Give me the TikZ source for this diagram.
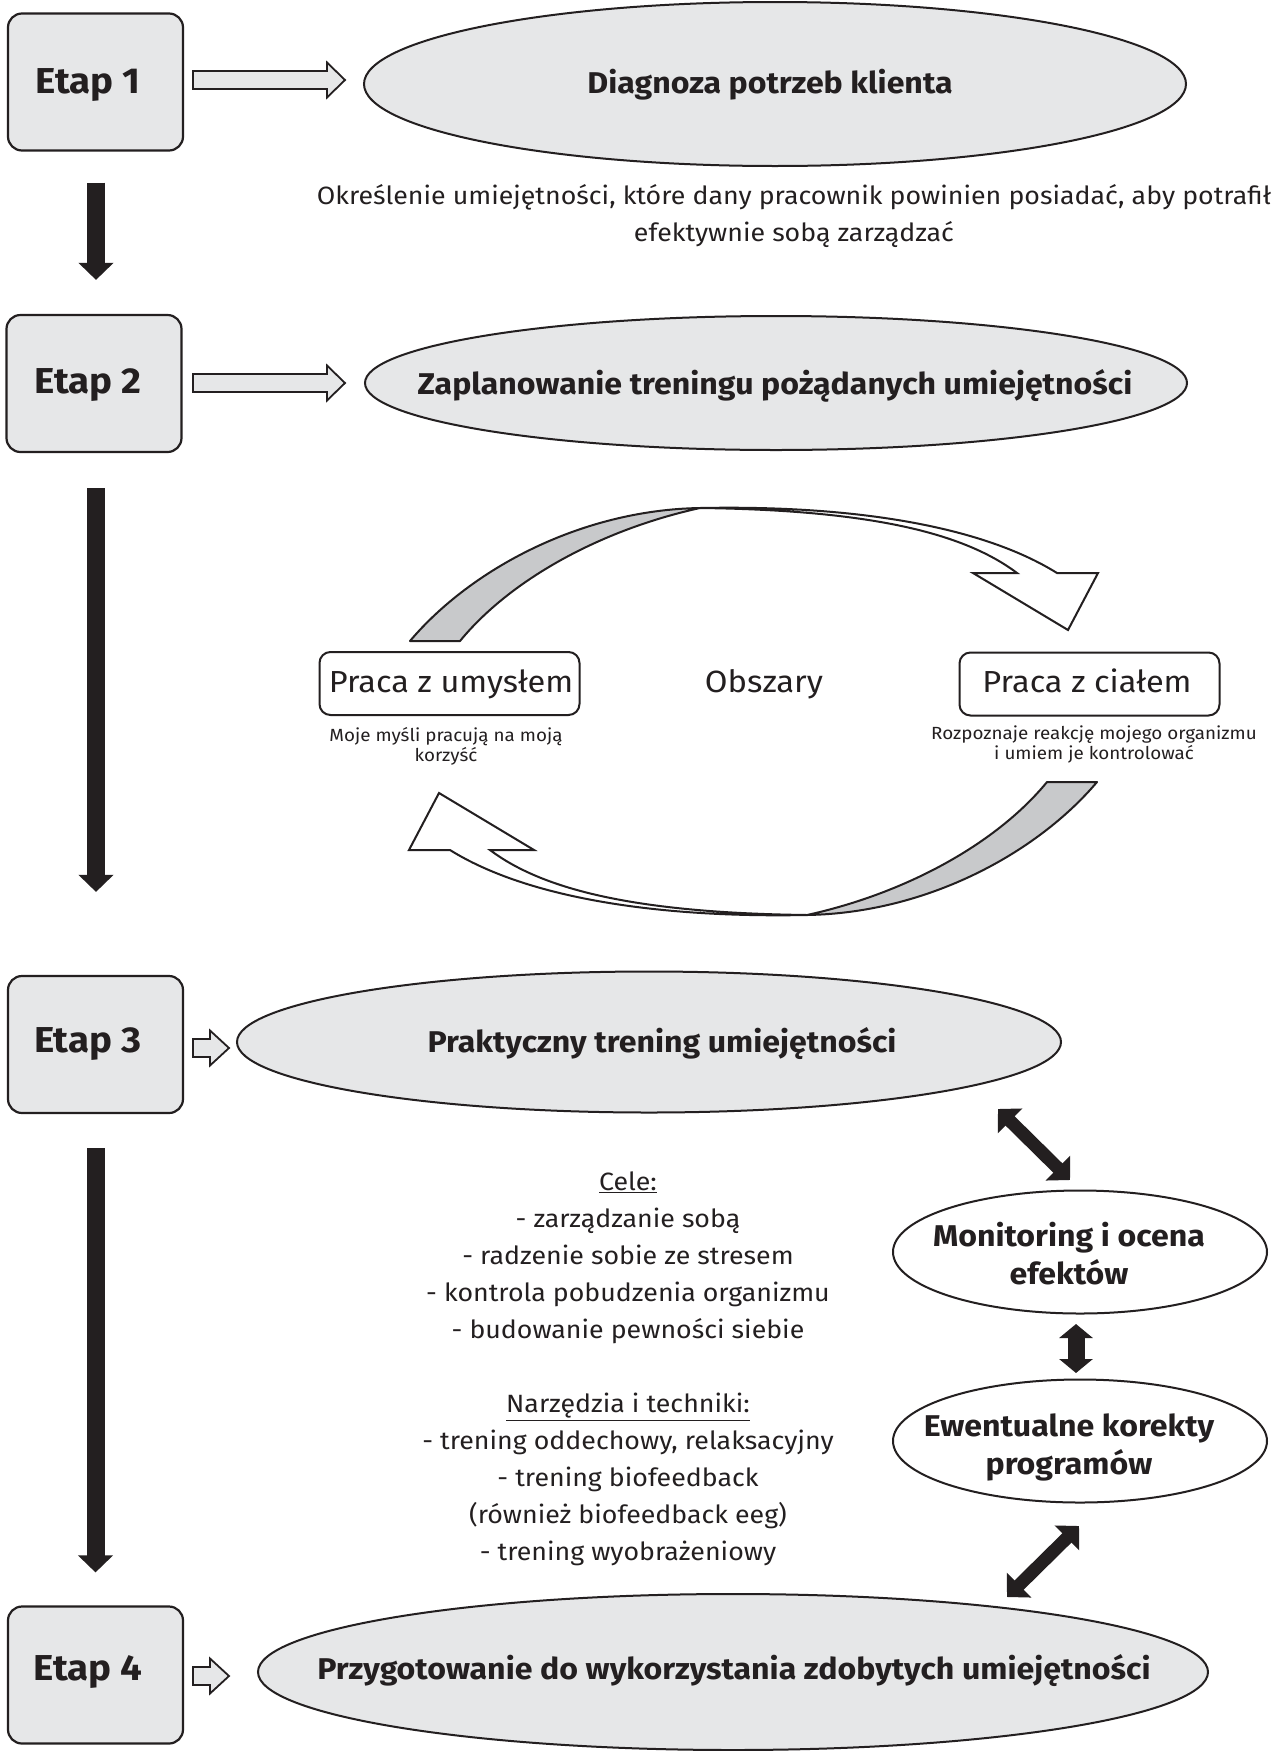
\documentclass[tikz,border=0pt]{standalone}
\usepackage{fontspec}
\setmainfont{Fira Sans}[FakeStretch=1.07]
\usetikzlibrary{arrows.meta,shapes.geometric,calc}
\definecolor{ink}{HTML}{231F20}
\definecolor{boxgray}{HTML}{E6E7E8}
\definecolor{backgray}{HTML}{C8C9CB}
\newcommand\blockarrow[3]{%
  \draw[hollowarrow] ($(#1)+(0,-9)$) -- ($(#2)+(-#3,-9)$) -- ($(#2)+(-#3,-17.5)$) -- (#2)
    -- ($(#2)+(-#3,17.5)$) -- ($(#2)+(-#3,9)$) -- ($(#1)+(0,9)$) -- cycle;}
\newcommand\cyclearrow{%
  \filldraw[fill=backgray, draw=ink, line width=2pt, line join=round]
    (410,641) .. controls (470,570) and (580,510) .. (700,508)
    .. controls (600,530) and (510,580) .. (460,641) -- cycle;
  \filldraw[fill=white, draw=ink, line width=2pt, line join=miter]
    (700,508) .. controls (850,505) and (980,525) .. (1057,573)
    -- (1098,573) -- (1068,630) -- (973,573) -- (1017,573)
    .. controls (960,530) and (860,510) .. (700,508) -- cycle;}
\begin{document}
\begin{tikzpicture}[x=1pt,y=-1pt,
  stepbox/.style={draw=ink, line width=2.2pt, fill=boxgray, rounded corners=14pt,
    minimum width=175pt, minimum height=137pt, inner sep=0pt},
  steplabel/.style={font=\fontsize{36}{42}\selectfont\bfseries, text=ink, inner sep=0pt, yshift=-3pt},
  phase/.style={ellipse, draw=ink, line width=2pt, fill=boxgray, inner sep=0pt},
  phasetext/.style={font=\fontsize{30}{36}\selectfont\bfseries, text=ink, inner sep=0pt, yshift=-3pt},
  loopbox/.style={ellipse, draw=ink, line width=2pt, fill=white, inner sep=0pt,
    minimum width=374pt, minimum height=123pt},
  looptext/.style={align=center, font=\fontsize{30}{38}\selectfont\bfseries, text=ink, inner sep=0pt, yshift=-2pt},
  areabox/.style={draw=ink, line width=2pt, fill=white, rounded corners=11pt,
    minimum width=260pt, minimum height=63pt, inner sep=0pt},
  areatext/.style={font=\fontsize{30.4}{36}\selectfont, text=ink, inner sep=0pt, yshift=-3pt},
  smalltext/.style={align=center, font=\fontsize{17.6}{20}\selectfont, text=ink, inner sep=0pt, yshift=-1pt},
  bodytext/.style={align=center, text=ink, inner sep=0pt},
  hollowarrow/.style={draw=ink, line width=1.8pt, fill=boxgray, line join=miter},
  bigdown/.style={draw=ink, line width=18pt, -{Triangle[length=17pt,width=34pt]}},
  dblarrow/.style={draw=ink, line width=13pt,
    {Triangle[length=17pt,width=34pt]}-{Triangle[length=17pt,width=34pt]}},
  smalldbl/.style={draw=ink, line width=17pt,
    {Triangle[length=14pt,width=33pt]}-{Triangle[length=14pt,width=33pt]}}
]
\useasboundingbox[fill=white] (0,0) rectangle (1283,1751);

% step boxes
\node[stepbox] (s1) at (95.5,82) {};
\node[steplabel] (l1) at (88,82) {Etap 1};
\node[stepbox] (s2) at (94,383.5) {};
\node[steplabel] (l2) at (88,382) {Etap 2};
\node[stepbox] (s3) at (95.5,1044.5) {};
\node[steplabel] (l3) at (88,1041) {Etap 3};
\node[stepbox] (s4) at (95.5,1675) {};
\node[steplabel] (l4) at (88,1669) {Etap 4};

% phase ellipses
\node[phase, minimum width=822pt, minimum height=164pt] (d1) at (775,84) {};
\node[phasetext] (t1) at (770,82) {Diagnoza potrzeb klienta};
\node[phase, minimum width=822pt, minimum height=134pt] (d2) at (776,383) {};
\node[phasetext] (t2) at (775,383) {Zaplanowanie treningu pożądanych umiejętności};
\node[phase, minimum width=824pt, minimum height=141pt] (d3) at (649,1042) {};
\node[phasetext] (t3) at (662,1041) {Praktyczny trening umiejętności};
\node[phase, minimum width=950pt, minimum height=156pt] (d4) at (733,1672) {};
\node[phasetext] (t4) at (734,1668) {Przygotowanie do wykorzystania zdobytych umiejętności};

% hollow block arrows
\coordinate (a1s) at (193,80); \coordinate (a1t) at (345,80);
\coordinate (a2s) at (193,383); \coordinate (a2t) at (345,383);
\coordinate (a3s) at (193,1048); \coordinate (a3t) at (229,1048);
\coordinate (a4s) at (193,1676); \coordinate (a4t) at (229,1676);
\blockarrow{a1s}{a1t}{18}
\blockarrow{a2s}{a2t}{18}
\blockarrow{a3s}{a3t}{19}
\blockarrow{a4s}{a4t}{19}

% black step arrows
\draw[bigdown, shorten <=31pt, shorten >=34pt] ([xshift=0.5pt]s1.south) -- ([xshift=2pt]s2.north);
\draw[bigdown, shorten <=35pt, shorten >=83pt] ([xshift=2pt]s2.south) -- ([xshift=0.5pt]s3.north);
\draw[bigdown, shorten <=34pt, shorten >=33pt] (s3.south) -- (s4.north);

% description under stage 1
\node[bodytext, font=\fontsize{25}{37}\selectfont] (desc) at (794,216)
  {Określenie umiejętności, które dany pracownik powinien posiadać, aby potrafił\\efektywnie sobą zarządzać};

% cycle of areas
\cyclearrow
\begin{scope}[rotate around={180:(753.5,711.5)}]
\cyclearrow
\end{scope}
\node[areabox] (mind) at (449.5,683.5) {};
\node[areatext] (mindl) at (451,681) {Praca z umysłem};
\node[areabox] (body) at (1089.5,684) {};
\node[areatext] (bodyl) at (1087,678) {Praca z ciałem};
\node[bodytext, font=\fontsize{30.7}{36}\selectfont] (obs) at (764,684) {Obszary};
\node[smalltext] (mindt) at (446,745) {Moje myśli pracują na moją\\korzyść};
\node[smalltext] (bodyt) at (1094,743) {Rozpoznaje reakcję mojego organizmu\\i umiem je kontrolować};

% goals and tools
\node[bodytext, font=\fontsize{25}{37}\selectfont] (goals) at (628,1369)
  {\underline{Cele:}\\- zarządzanie sobą\\- radzenie sobie ze stresem\\- kontrola pobudzenia organizmu\\- budowanie pewności siebie\\[37pt]\underline{Narzędzia i techniki:}\\- trening oddechowy, relaksacyjny\\- trening biofeedback\\(również biofeedback eeg)\\- trening wyobrażeniowy};

% monitoring loop
\node[loopbox] (mon) at (1080,1252) {};
\node[looptext] (monl) at (1069,1252) {Monitoring i ocena\\efektów};
\node[loopbox] (kor) at (1080,1441) {};
\node[looptext] (korl) at (1069,1445) {Ewentualne korekty\\programów};
\coordinate (m1) at (998,1109); \coordinate (m2) at (1070,1180);
\coordinate (k1) at (1076,1324); \coordinate (k2) at (1076,1373);
\coordinate (p1) at (1079,1526); \coordinate (p2) at (1007,1597);
\draw[dblarrow] (m1) -- (m2);
\draw[smalldbl] (k1) -- (k2);
\draw[dblarrow] (p1) -- (p2);
\end{tikzpicture}
\end{document}
